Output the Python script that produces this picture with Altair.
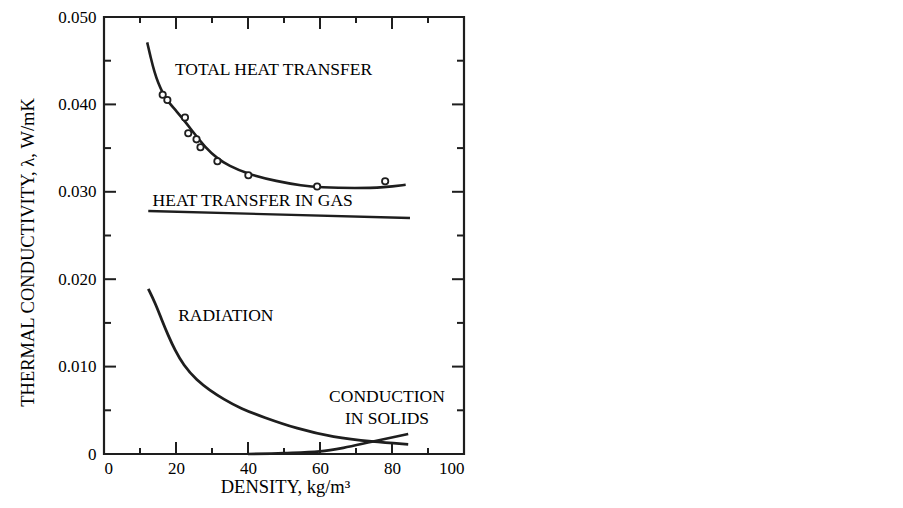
import altair as alt
import pandas as pd

# ---- data ----
total_x = [12.0, 13.0, 14.0, 15.0, 16.3, 17.6, 20.2, 22.8, 25.0, 28.1, 31.5, 34.6, 40.1, 48.0, 55.0, 60.0, 70.0, 78.0, 83.8]
total_y = [0.0471, 0.0453, 0.0437, 0.0425, 0.0413, 0.0404, 0.0392, 0.0379, 0.0367, 0.0351, 0.0338, 0.0330, 0.0320, 0.0312, 0.0307, 0.0305, 0.0304, 0.0305, 0.0308]

pts_x = [16.3, 17.6, 22.5, 23.4, 25.7, 26.8, 31.5, 40.1, 59.2, 78.1]
pts_y = [0.0411, 0.0405, 0.0385, 0.0367, 0.0360, 0.0351, 0.0335, 0.0319, 0.0306, 0.0312]

gas_x = [12.3, 85.0]
gas_y = [0.0278, 0.0270]

rad_x = [12.3, 14.2, 16.0, 17.9, 19.7, 22.0, 25.8, 29.4, 33.1, 38.0, 44.3, 53.5, 63.7, 74.4, 84.5]
rad_y = [0.0189, 0.0173, 0.0154, 0.0135, 0.0119, 0.0102, 0.0084, 0.0073, 0.0063, 0.0052, 0.0042, 0.0029, 0.0019, 0.0014, 0.0011]

cond_x = [40.0, 50.0, 60.0, 66.5, 74.4, 84.5]
cond_y = [0.0, 0.0001, 0.0003, 0.0007, 0.0014, 0.0023]

label_x = [19.7, 13.5, 20.6, 78.6, 78.6]
label_y = [0.0439, 0.0290, 0.0158, 0.0065, 0.0040]
label_text = ["TOTAL HEAT TRANSFER", "HEAT TRANSFER IN GAS", "RADIATION", "CONDUCTION", "IN SOLIDS"]
label_align = ["left", "left", "left", "center", "center"]

x_major = [20, 40, 60, 80]
x_minor = [10, 30, 50, 70, 90]
y_major = [0.010, 0.020, 0.030, 0.040]
y_minor = [0.005, 0.015, 0.025, 0.035, 0.045]

W, H = 360, 437
FONT = "Liberation Serif"
INK = "#1e1e1e"

xs = alt.Scale(domain=[0, 100], nice=False, zero=True)
ys = alt.Scale(domain=[0, 0.05], nice=False, zero=True)

def curve(xv, yv):
    return pd.DataFrame({"x": xv, "y": yv})

xax = alt.Axis(values=[0, 20, 40, 60, 80, 100], ticks=False, grid=False, domain=False,
               labelFont=FONT, labelFontSize=17, labelColor="black", labelPadding=6,
               title="DENSITY, kg/m³", titleFont=FONT, titleFontSize=18.5, titleFontWeight="normal",
               titleColor="black", titleX=181, titleY=32, titleBaseline="middle", titleAlign="center")
yax = alt.Axis(values=[0, 0.01, 0.02, 0.03, 0.04, 0.05], ticks=False, grid=False, domain=False,
               labelExpr="datum.value == 0 ? '0' : format(datum.value, '.3f')",
               labelFont=FONT, labelFontSize=17, labelColor="black", labelPadding=8,
               title="THERMAL CONDUCTIVITY, λ, W/mK", titleFont=FONT, titleFontSize=18.5,
               titleFontWeight="normal", titleColor="black",
               titleX=-77, titleY=235, titleAngle=270, titleBaseline="middle", titleAlign="center")

def line(df, w=2.6, axes=False, interp="monotone"):
    enc_x = alt.X("x:Q", scale=xs, axis=xax) if axes else alt.X("x:Q", scale=xs)
    enc_y = alt.Y("y:Q", scale=ys, axis=yax) if axes else alt.Y("y:Q", scale=ys)
    return alt.Chart(df).mark_line(color=INK, strokeWidth=w, interpolate=interp).encode(x=enc_x, y=enc_y)

total = line(curve(total_x, total_y), 2.6, axes=True, interp="basis")
gas = line(curve(gas_x, gas_y), 2.4)
rad = line(curve(rad_x, rad_y), 2.8, interp="basis")
cond = line(curve(cond_x, cond_y), 2.6)

pts = alt.Chart(curve(pts_x, pts_y)).mark_point(shape="circle", size=40, filled=True, fill="white",
                                               stroke=INK, strokeWidth=1.8, opacity=1).encode(
    x=alt.X("x:Q", scale=xs), y=alt.Y("y:Q", scale=ys))

labels_df = pd.DataFrame({"x": label_x, "y": label_y, "t": label_text, "a": label_align})
lab_left = alt.Chart(labels_df[labels_df.a == "left"]).mark_text(font=FONT, fontSize=17.5, align="left",
                                                                baseline="middle", color="black").encode(
    x=alt.X("x:Q", scale=xs), y=alt.Y("y:Q", scale=ys), text="t:N")
lab_center = alt.Chart(labels_df[labels_df.a == "center"]).mark_text(font=FONT, fontSize=17.5, align="center",
                                                                    baseline="middle", color="black").encode(
    x=alt.X("x:Q", scale=xs), y=alt.Y("y:Q", scale=ys), text="t:N")

def xticks(vals, length):
    df = pd.DataFrame({"x": vals})
    top = alt.Chart(df).mark_rule(color=INK, strokeWidth=2).encode(
        x=alt.X("x:Q", scale=xs), y=alt.value(0), y2=alt.value(length))
    bot = alt.Chart(df).mark_rule(color=INK, strokeWidth=2).encode(
        x=alt.X("x:Q", scale=xs), y=alt.value(H), y2=alt.value(H - length))
    return top + bot

def yticks(vals, length):
    df = pd.DataFrame({"y": vals})
    left = alt.Chart(df).mark_rule(color=INK, strokeWidth=2).encode(
        y=alt.Y("y:Q", scale=ys), x=alt.value(0), x2=alt.value(length))
    right = alt.Chart(df).mark_rule(color=INK, strokeWidth=2).encode(
        y=alt.Y("y:Q", scale=ys), x=alt.value(W), x2=alt.value(W - length))
    return left + right

chart = alt.layer(
    total, gas, rad, cond, pts, lab_left, lab_center,
    xticks(x_major, 12), xticks(x_minor, 6), yticks(y_major, 12), yticks(y_minor, 7),
).properties(
    width=W, height=H,
    background="white",
    autosize=alt.AutoSizeParams(type="none"),
    padding={"left": 96, "top": 9, "right": 420, "bottom": 55},
).configure_view(
    stroke=INK, strokeWidth=2.2
)

chart.save("out.html", embed_options={"renderer": "svg", "actions": False})
